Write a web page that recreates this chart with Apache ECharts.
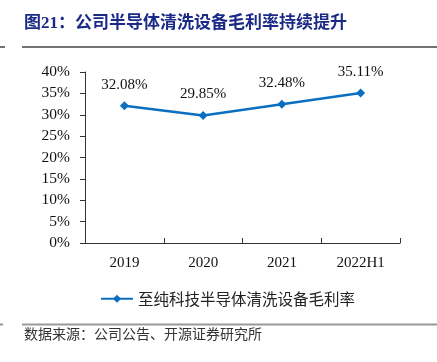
<!DOCTYPE html>
<html><head><meta charset="utf-8">
<script src="https://cdn.jsdelivr.net/npm/echarts@6/dist/echarts.min.js"></script>
<style>html,body{margin:0;padding:0;background:#fff}#c{width:437px;height:362px}</style>
</head><body><div id="c"></div>
<script>
const categories = ['2019', '2020', '2021', '2022H1'];
const margin = [32.08, 29.85, 32.48, 35.11];
const yTicks = [0, 5, 10, 15, 20, 25, 30, 35, 40];
const seriesName = '至纯科技半导体清洗设备毛利率';
const titleText = '图21：公司半导体清洗设备毛利率持续提升';
const sourceText = '数据来源：公司公告、开源证券研究所';

const chart = echarts.init(document.getElementById('c'));
const serif = '"Liberation Serif","Times New Roman",serif';
const cjk = '"Noto Sans CJK SC",sans-serif';
chart.setOption({
  animation: false,
  graphic: [
    {type:'text', left:24, top:15, style:{text:titleText, font:'bold 17px '+serif+','+cjk, fill:'#1b2a86'}},
    {type:'line', shape:{x1:22,y1:47,x2:437,y2:47}, style:{stroke:'#444',lineWidth:1.5}},
    {type:'line', shape:{x1:0,y1:47,x2:5,y2:47}, style:{stroke:'#444',lineWidth:1.5}},
    {type:'line', shape:{x1:22,y1:324.5,x2:437,y2:324.5}, style:{stroke:'#999',lineWidth:2}},
    {type:'line', shape:{x1:0,y1:324.5,x2:3,y2:324.5}, style:{stroke:'#999',lineWidth:2}},
    {type:'text', left:24, top:327, style:{text:sourceText, font:'14px '+cjk, fill:'#333'}}
  ],
  grid: {left:85, right:37, top:72, bottom:119, containLabel:false},
  legend: {
    data:[seriesName], top:286, left:95, itemWidth:32, itemHeight:10, itemGap:5,
    textStyle:{fontFamily:cjk, fontSize:15.5, color:'#222'}
  },
  xAxis: {
    type:'category', data:categories, boundaryGap:true,
    axisLine:{lineStyle:{color:'#333', width:1}},
    axisTick:{show:true, alignWithLabel:false, length:5, inside:true, lineStyle:{color:'#333'}},
    axisLabel:{fontFamily:serif, fontSize:15, color:'#111', margin:13}
  },
  yAxis: {
    type:'value', min:0, max:40, interval:5,
    axisLine:{show:true, lineStyle:{color:'#333', width:1}},
    axisTick:{show:true, length:5, lineStyle:{color:'#333'}},
    splitLine:{show:false},
    axisLabel:{fontFamily:serif, fontSize:15.5, color:'#111', margin:15, formatter: v => v + '%'}
  },
  series: [{
    name: seriesName, type:'line', data: margin,
    symbol:'diamond', symbolSize:9,
    lineStyle:{color:'#0b6fc1', width:2.5},
    itemStyle:{color:'#0b6fc1'},
    label:{show:true, position:'top', distance:9, fontFamily:serif, fontSize:15, color:'#111',
      formatter: p => p.value.toFixed(2) + '%'}
  }]
});
</script></body></html>
